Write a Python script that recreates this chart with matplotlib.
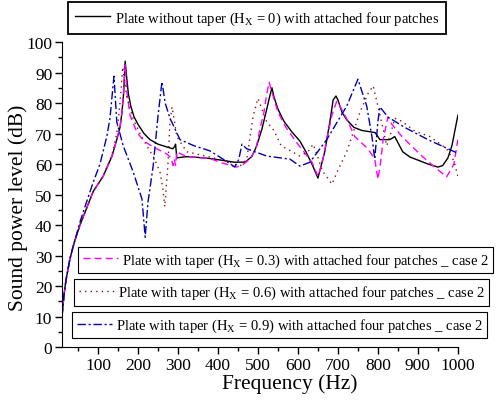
import matplotlib
matplotlib.use("Agg")
import matplotlib.pyplot as plt

plt.rcParams['font.family'] = ['Liberation Serif', 'DejaVu Serif']
plt.rcParams['mathtext.fontset'] = 'custom'
plt.rcParams['mathtext.rm'] = 'Liberation Serif'
plt.rcParams['mathtext.it'] = 'Liberation Serif:italic'

# Hx = 0 (no taper)
f0 = [10, 15, 20, 30, 40, 55, 70, 88, 113, 135, 147, 155, 160, 164, 168, 172, 176, 182, 190, 200,
      215, 230, 250, 272, 287, 292, 294, 297, 320, 338, 380, 422, 440, 468, 485, 497, 510,
      522, 530, 535, 540, 550, 565, 585, 605, 620, 635, 650, 667, 680, 688, 695, 700, 710, 722,
      740, 760, 793, 805, 830, 842, 850, 862, 880, 925, 950, 962, 975, 985, 1000]
s0 = [10, 17, 22, 29, 34, 40, 45, 51, 56, 62.6, 68, 72, 77, 83, 93.7, 88, 83, 79, 75.5, 73,
      70, 68, 66.5, 65.6, 65, 65.8, 66.5, 62, 62.4, 62.3, 61.8, 61, 60.6, 60.6, 62.5, 66, 71.5,
      78, 82.5, 85, 82, 78, 74, 70.5, 67.5, 64, 60, 55.4, 64, 74, 81, 82.3, 81, 77, 74.5,
      72, 71, 70.3, 68, 68, 69, 67, 64, 62.3, 60, 59, 59.5, 62, 66, 76]

# Hx = 0.3
f1 = [10, 15, 20, 30, 40, 55, 70, 88, 113, 135, 147, 155, 160, 164, 168, 172, 180, 197,
      215, 238, 272, 283, 288, 291, 294, 297, 320, 338, 380, 405, 435, 447, 462, 480, 495,
      505, 515, 522, 528, 535, 550, 570, 597, 635, 650, 660, 672, 685, 697, 705, 722, 742,
      775, 792, 800, 806, 813, 825, 835, 860, 910, 947, 972, 990, 1000]
s1 = [10, 17, 22, 29, 34, 40, 45, 51, 56, 62.6, 68, 72, 77, 84, 92.5, 84, 76, 70.5,
      67.5, 65.6, 63.3, 62, 59.5, 61.5, 59.5, 64, 62.5, 62.3, 61.8, 60.6, 59.4, 59, 59.8, 61.6, 65,
      71.5, 77, 83, 86.8, 83.5, 77, 72, 67, 60.6, 56, 60, 68, 76, 80.6, 79, 74.8, 69,
      65, 61.6, 55, 60, 68, 75.4, 73, 69, 62.6, 58.4, 55.8, 60, 68]

# Hx = 0.6
f2 = [10, 15, 20, 30, 40, 55, 70, 88, 113, 135, 147, 155, 162, 172, 188, 205, 222, 240,
      255, 262, 267, 275, 280, 285, 290, 297, 322, 380, 430, 455, 472, 488, 500, 510, 522,
      540, 558, 605, 625, 638, 648, 660, 685, 700, 722, 755, 775, 788, 800, 812, 822, 832,
      842, 860, 892, 930, 972, 990, 1000]
s2 = [10, 17, 22, 29, 34, 40, 45, 51, 56, 63, 70, 80, 91.8, 82, 74.8, 70, 66, 62,
      57.4, 52, 46, 60, 73.8, 78.7, 75, 69, 64, 62.3, 60.6, 59.3, 61.6, 75.8, 81.5, 78, 73.8,
      71, 66, 62.6, 64, 66.5, 63, 58, 53.4, 58, 64, 77, 83, 85.6, 79, 72, 66, 70,
      75, 74, 70.8, 69, 65, 61, 56]

# Hx = 0.9
f3 = [10, 15, 20, 30, 40, 55, 70, 88, 105, 122, 130, 135, 140, 147, 163, 188, 210, 218,
      225, 238, 250, 260, 268, 280, 305, 340, 380, 420, 442, 452, 460, 472, 522, 580,
      605, 630, 672, 722, 750, 772, 785, 792, 800, 805, 825, 867, 925, 1000]
s3 = [10, 17, 22, 29, 34, 41, 47, 54, 60, 69, 75, 82, 88.8, 73.8, 66, 57.4, 48.5, 36,
      47.5, 59.4, 75.7, 87, 80, 75, 68, 66, 64.3, 61, 59, 61.5, 66.5, 65, 62.6, 61.6,
      59.3, 60.6, 68, 79, 87.8, 79, 69, 61.6, 74, 78.7, 75.4, 72, 68, 63.5]

lab0 = r'Plate without taper (H$_\mathregular{X}$ = 0) with attached four patches'
lab1 = r'Plate with taper (H$_\mathregular{X}$ = 0.3) with attached four patches _ case 2'
lab2 = r'Plate with taper (H$_\mathregular{X}$ = 0.6) with attached four patches _ case 2'
lab3 = r'Plate with taper (H$_\mathregular{X}$ = 0.9) with attached four patches _ case 2'

fig = plt.figure(figsize=(4.98, 4.02), dpi=100)
ax = fig.add_axes([0.1245, 0.1343, 0.795, 0.7587])

l0, = ax.plot(f0, s0, color='black', lw=1.0)
l1, = ax.plot(f1, s1, color='#ff00ff', lw=1.0, ls=(0, (5, 3)))
l2, = ax.plot(f2, s2, color='#8b1010', lw=1.0, ls=(0, (1, 3)))
l3, = ax.plot(f3, s3, color='#0000b0', lw=1.0, ls=(0, (6, 2, 1.5, 2)))

ax.set_xlim(10, 1000)
ax.set_ylim(0, 100)
ax.set_xticks(range(100, 1001, 100))
ax.set_xticks(range(50, 1001, 100), minor=True)
ax.set_yticks(range(0, 101, 10))
ax.set_yticks(range(5, 100, 10), minor=True)
ax.spines['top'].set_visible(False)
ax.spines['right'].set_visible(False)
ax.tick_params(which='major', direction='out', length=5, width=1, labelsize=12.5, pad=2)
ax.tick_params(which='minor', direction='out', length=3, width=1)

ax.set_xlabel('Frequency (Hz)', fontsize=15.5)
ax.set_ylabel('Sound power level (dB)', fontsize=15.5)
ax.xaxis.set_label_coords(0.576, -0.085)
ax.yaxis.set_label_coords(-0.085, 0.46)

leg_kw = dict(loc='center', fontsize=10.5, frameon=True, fancybox=False,
              edgecolor='black', framealpha=1, handlelength=2.4,
              handletextpad=0.3, borderaxespad=0)

fig.legend([l0], [lab0], bbox_to_anchor=(0.516, 0.953), borderpad=0.5,
           **leg_kw).get_frame().set_linewidth(1.3)
fig.legend([l1], [lab1], bbox_to_anchor=(0.574, 0.351), borderpad=0.3,
           **leg_kw).get_frame().set_linewidth(0.8)
fig.legend([l2], [lab2], bbox_to_anchor=(0.566, 0.270), borderpad=0.3,
           **leg_kw).get_frame().set_linewidth(0.8)
fig.legend([l3], [lab3], bbox_to_anchor=(0.562, 0.188), borderpad=0.3,
           **leg_kw).get_frame().set_linewidth(0.8)

fig.savefig('out.png', dpi=100)
